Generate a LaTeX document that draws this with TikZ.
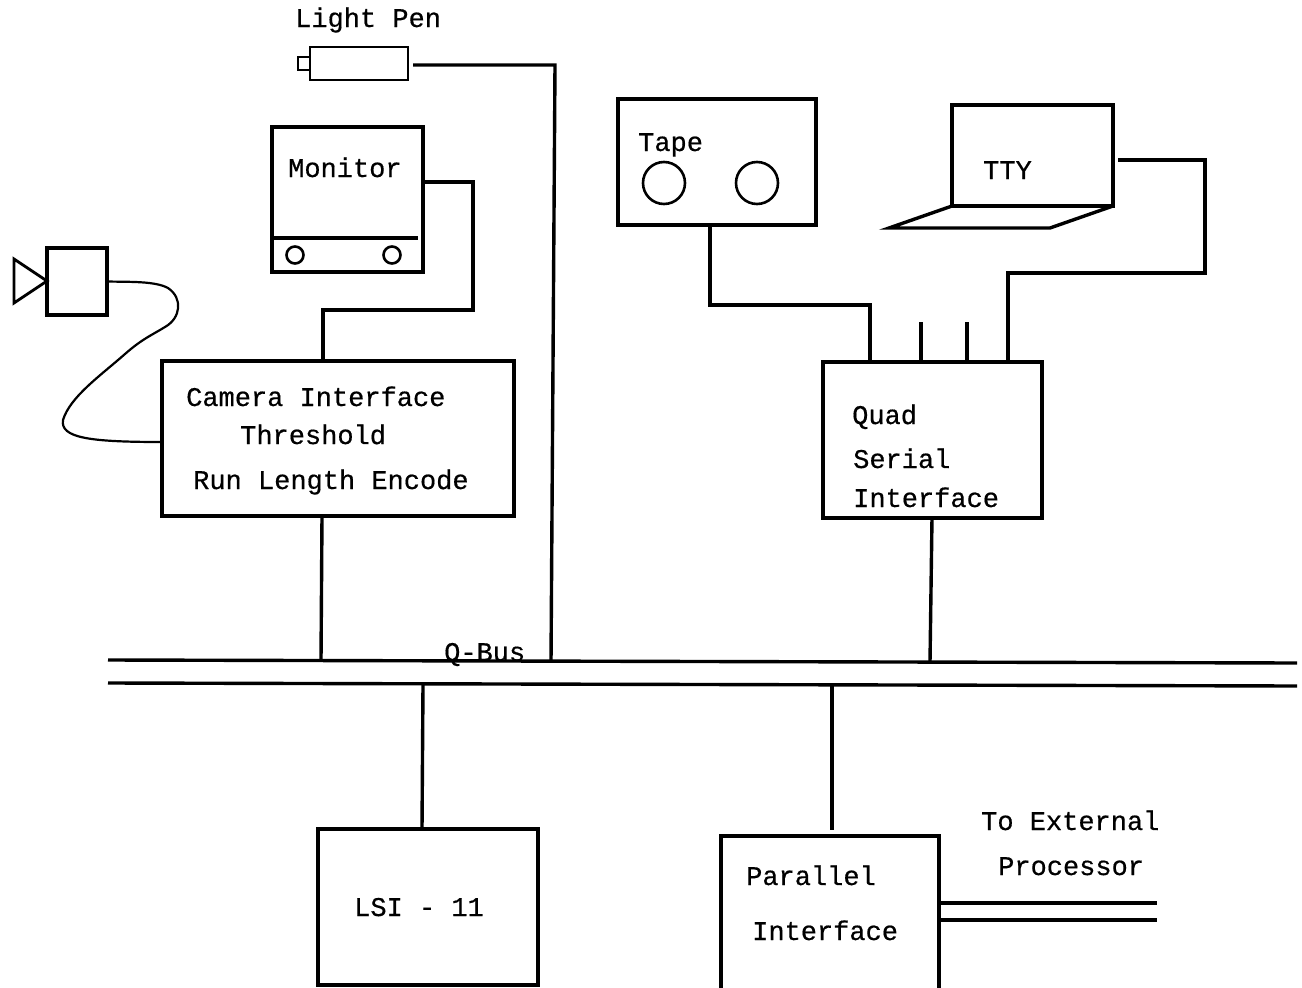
\documentclass[tikz,border=0pt]{standalone}
\usepackage{fontspec}
\newfontfamily\labelfont{Liberation Mono}[FakeBold=0.5]
\begin{document}
\begin{tikzpicture}[
        x=1pt,
        y=-1pt,
        device/.style={draw, line width=3.4pt, outer sep=0pt, inner sep=0pt},
        thin device/.style={device, line width=2.4pt},
        reel/.style={draw, circle, line width=2.6pt, outer sep=0pt, inner sep=0pt},
        wire/.style={line width=3.4pt, line join=miter},
        label text/.style={anchor=base west, inner sep=0pt, font=\fontsize{27}{30}\labelfont}
    ]
        \useasboundingbox (0,0) rectangle (1302,988);
        \node[thin device, minimum width=98, minimum height=33] (pen) at (359,63.5) {};
        \node[thin device, minimum width=12, minimum height=13, anchor=east] (pentip) at (pen.west) {};
        \node[device, minimum width=151, minimum height=145] (monitor) at (347.5,199.5) {};
        \node[reel, minimum size=17] (knobl) at (295,255) {};
        \node[reel, minimum size=17] (knobr) at (392,255) {};
        \node[device, minimum width=60, minimum height=67] (camera) at (77,281.5) {};
        \node[device, minimum width=352, minimum height=155] (cam) at (338,438.5) {};
        \node[device, minimum width=198, minimum height=126] (tape) at (717,162) {};
        \node[reel, minimum size=42] (reell) at (664,183) {};
        \node[reel, minimum size=42] (reelr) at (757,183) {};
        \node[device, minimum width=161, minimum height=101] (tty) at (1032.5,155.5) {};
        \node[device, minimum width=219, minimum height=156] (quad) at (932.5,440) {};
        \node[device, minimum width=220, minimum height=156] (lsi) at (428,907) {};
        \node[device, minimum width=218, minimum height=190] (parallel) at (830,931) {};

        \node[label text] at (295,27) {Light Pen};
        \node[label text] at (288,177) {Monitor};
        \node[label text] at (638,151) {Tape};
        \node[label text] at (983,179) {TTY};
        \node[label text] at (186,406) {Camera Interface};
        \node[label text] at (240,444) {Threshold};
        \node[label text] at (193,489) {Run Length Encode};
        \node[label text] at (852,424) {Quad};
        \node[label text] at (853,468) {Serial};
        \node[label text] at (853,507) {Interface};
        \node[label text] at (444,661) {Q-Bus};
        \node[label text] at (354,916) {LSI - 11};
        \node[label text] at (746,885) {Parallel};
        \node[label text] at (752,940) {Interface};
        \node[label text] at (981,830) {To External};
        \node[label text] at (998,875) {Processor};

        \coordinate (busal) at (108,660);
        \coordinate (busar) at (1297,663);
        \coordinate (busbl) at (108,683);
        \coordinate (busbr) at (1297,686);
        \coordinate (buscam) at (321,660);
        \coordinate (buspen) at (551,662);
        \coordinate (busquad) at (930,662);
        \coordinate (buslsi) at (423,685);
        \coordinate (buspar) at (832,686);
        \coordinate (penout) at (555,65);
        \coordinate (monout) at (423,182);
        \coordinate (monbend) at (473,310);
        \coordinate (camtop) at (323,361);
        \coordinate (cambot) at (322,516);
        \coordinate (camin) at (162,442);
        \coordinate (tapeout) at (710,225);
        \coordinate (quadtape) at (870,362);
        \coordinate (quadtty) at (1008,362);
        \coordinate (quadstuba) at (921,362);
        \coordinate (quadstubb) at (967,362);
        \coordinate (stubatop) at (921,322);
        \coordinate (stubbtop) at (967,322);
        \coordinate (ttyout) at (1113,160);
        \coordinate (ttybend) at (1205,273);
        \coordinate (quadbot) at (932,518);
        \coordinate (lsitop) at (422,829);
        \coordinate (partop) at (832,836);
        \coordinate (parouta) at (940,903);
        \coordinate (paroutb) at (940,920);
        \coordinate (extouta) at (1157,903);
        \coordinate (extoutb) at (1157,920);

        \draw[wire] (monitor.west |- 0,238) -- (418,238);
        \draw[line width=2.8pt] (14,259) -- (47,281) -- (14,303) -- cycle;
        \draw[wire] (tty.south west) -- (889,228) -- (1050,228) -- (tty.south east);
        \draw[line width=2.2pt] (camera.east) .. controls (130,282) and (155,281) .. (168,288)
            .. controls (183,298) and (181,318) .. (165,327)
            .. controls (152,335) and (142,339) .. (125,354)
            .. controls (100,376) and (70,397) .. (63,420)
            .. controls (60,438) and (90,442) .. (camin);

        \draw[wire, shorten <=5pt] (pen.east |- penout) -- (penout) -- (buspen);
        \draw[wire] (monout) -| (monbend) -| (camtop);
        \draw[wire] (cambot) -- (buscam);
        \draw[wire] (tapeout) |- (870,305) -- (quadtape);
        \draw[wire] (stubatop) -- (quadstuba);
        \draw[wire] (stubbtop) -- (quadstubb);
        \draw[wire, shorten <=5pt] (ttyout) -| (ttybend) -| (quadtty);
        \draw[wire] (quadbot) -- (busquad);
        \draw[wire] (busal) -- (busar);
        \draw[wire] (busbl) -- (busbr);
        \draw[wire] (buslsi) -- (lsitop);
        \draw[wire, shorten >=6pt] (buspar) -- (partop);
        \draw[wire] (parouta) -- (extouta);
        \draw[wire] (paroutb) -- (extoutb);
\end{tikzpicture}
\end{document}
